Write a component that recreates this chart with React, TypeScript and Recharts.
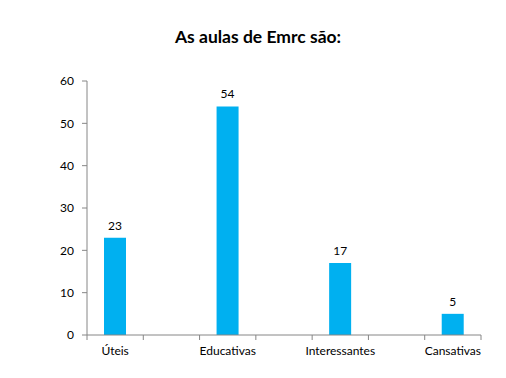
import React from 'react';
import { BarChart, Bar, XAxis, YAxis, LabelList } from 'recharts';

// blank categories sit between the real ones, as in the source sheet
const categories = ['Úteis', '', 'Educativas', '', 'Interessantes', '', 'Cansativas'];
const answers = [23, null, 54, null, 17, null, 5];
const yTicks = [0, 10, 20, 30, 40, 50, 60];

const chartData = categories.map((name, i) => ({ name, value: answers[i] }));

const AXIS_COLOR = '#868686';
const FONT = 'Lato, "Liberation Sans", sans-serif';
const TICK_SIZE = 5;
const TICK_MARGIN = 6;

// Excel draws category ticks on band edges, not centres
const EdgeTick = (props: any) => {
  const { x, y, payload, index } = props;
  const half = payload.offset || 0;
  const top = y - TICK_SIZE - TICK_MARGIN;
  return (
    <g>
      {index === 0 && (
        <line x1={x - half} x2={x - half} y1={top} y2={top + TICK_SIZE} stroke={AXIS_COLOR} />
      )}
      <line x1={x + half} x2={x + half} y1={top} y2={top + TICK_SIZE} stroke={AXIS_COLOR} />
      <text x={x} y={y} dy="0.71em" textAnchor="middle" fill="#000" fontSize={12} fontFamily={FONT}>
        {payload.value}
      </text>
    </g>
  );
};

const App: React.FC = () => {
  return (
    <div style={{ position: 'fixed', left: 0, top: 0, width: 506, height: 378, background: '#fff' }}>
      <div
        style={{
          position: 'absolute',
          top: 26,
          left: 0,
          width: 516,
          textAlign: 'center',
          fontFamily: FONT,
          fontWeight: 700,
          fontSize: 17.5,
          lineHeight: '22px',
          color: '#000',
        }}
      >
        As aulas de Emrc são:
      </div>
      <BarChart
        width={506}
        height={378}
        data={chartData}
        margin={{ top: 81, right: 25, bottom: 13, left: 0 }}
        barCategoryGap="30%"
      >
        <YAxis
          width={87}
          domain={[0, 60]}
          ticks={yTicks}
          interval={0}
          axisLine={{ stroke: AXIS_COLOR }}
          tickLine={{ stroke: AXIS_COLOR }}
          tickSize={5}
          tickMargin={8}
          tick={{ fill: '#000', fontSize: 12, fontFamily: FONT }}
        />
        <XAxis
          dataKey="name"
          height={30}
          interval={0}
          axisLine={{ stroke: AXIS_COLOR }}
          tickLine={false}
          tickSize={TICK_SIZE}
          tickMargin={TICK_MARGIN}
          tick={<EdgeTick />}
        />
        <Bar dataKey="value" fill="#00B0F0" barSize={22} isAnimationActive={false}>
          <LabelList
            dataKey="value"
            position="top"
            offset={8}
            fill="#000"
            fontSize={12}
            fontFamily={FONT}
            formatter={(v: any) => (v == null ? '' : v)}
          />
        </Bar>
      </BarChart>
    </div>
  );
};

export default App;
